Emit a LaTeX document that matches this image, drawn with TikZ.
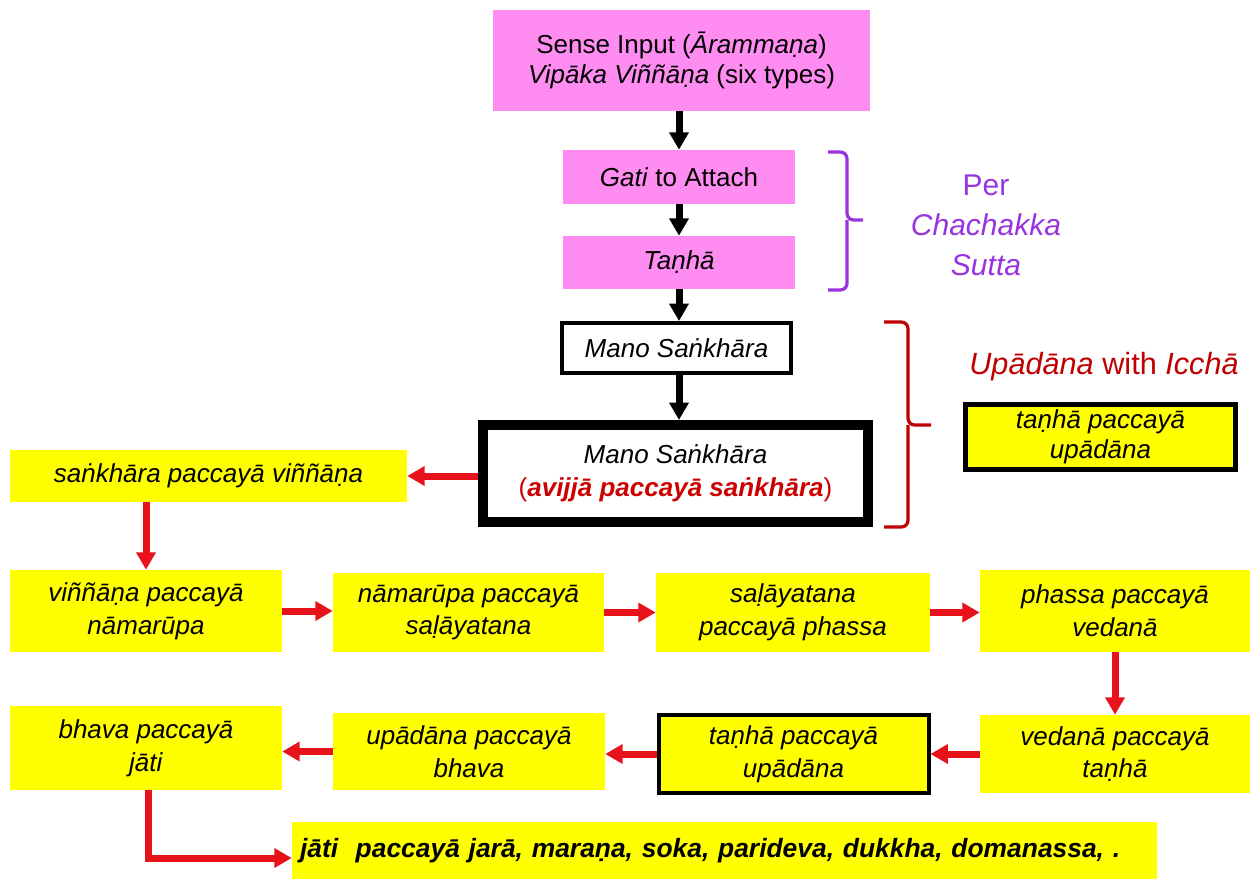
\documentclass[tikz,border=0pt]{standalone}
\usepackage{fontspec}
\setmainfont{Liberation Sans}
\usetikzlibrary{arrows.meta}
\definecolor{pinkbox}{HTML}{FF8CF0}
\definecolor{ylw}{HTML}{FFFF00}
\definecolor{redarr}{HTML}{E8121A}
\definecolor{darkred}{HTML}{C00000}
\definecolor{txtred}{HTML}{CC0000}
\definecolor{purp}{HTML}{9933E0}
\begin{document}
\begin{tikzpicture}[x=0.75pt,y=-0.75pt,
  font=\fontsize{19.5}{24.5}\selectfont,
  every node/.style={align=center, inner sep=0pt},
  pinkb/.style={fill=pinkbox},
  ylwb/.style={fill=ylw},
  wb/.style={fill=white, draw=black, line width=3pt},
  barrow/.style={draw=black, line width=5.25pt, -{Triangle[width=14pt,length=13pt]}},
  rarrow/.style={draw=redarr, line width=5.25pt, -{Triangle[width=14pt,length=13pt]}},
  brk/.style={line width=2.4pt, rounded corners=5pt}
]
\useasboundingbox[fill=white] (0,0) rectangle (1258,879);

% top pink boxes
\node[pinkb, minimum width=282.75pt, minimum height=75.75pt, font=\fontsize{19.5}{22.5}\selectfont] (top) at (681.5,60.5)
  {Sense Input (\textit{Ārammaṇa})\\\textit{Vipāka Viññāṇa} (six types)};
\node[pinkb, minimum width=174pt, minimum height=40.5pt] (gati) at (679,177)
  {\textit{Gati} to Attach};
\node[pinkb, minimum width=174pt, minimum height=39.75pt] (tanha) at (679,262.5)
  {\textit{Taṇhā}};

% mano sankhara boxes
\node[wb, minimum width=171.75pt, minimum height=37.5pt] (mano1) at (676.5,348)
  {\textit{Mano Saṅkhāra}};
\node[fill=white, draw=black, line width=7.5pt, minimum width=288.75pt, minimum height=72.75pt] (mano2) at (675.5,473.5)
  {\textit{Mano Saṅkhāra}\\{\color{txtred}(\textbf{\textit{avijjā paccayā saṅkhāra}})}};

% right side
\node[ylwb, draw=black, line width=3.75pt, minimum width=202.5pt, minimum height=48.75pt, font=\fontsize{19.5}{22.5}\selectfont] (upad) at (1100.5,437)
  {\textit{taṇhā paccayā}\\\textit{upādāna}};
\node[text=darkred, font=\fontsize{23}{26}\selectfont] (uptitle) at (1104,367) {\textit{Upādāna} with \textit{Icchā}};
\node[text=purp, font=\fontsize{22.5}{30}\selectfont] (per) at (986,225)
  {Per\\\textit{Chachakka}\\\textit{Sutta}};

% brackets
\coordinate (pb1) at (828,152);
\coordinate (pb2) at (828,290);
\coordinate (pbt) at (863,220);
\draw[purp, brk] (pb1) -- (847,152) -- (847,220) -- (pbt);
\draw[purp, brk] (pb2) -- (847,290) -- (847,220);
\coordinate (rb1) at (884,322);
\coordinate (rb2) at (884,527);
\coordinate (rbt) at (931,425);
\draw[darkred, brk] (rb1) -- (908,322) -- (908,425) -- (rbt);
\draw[darkred, brk] (rb2) -- (908,527) -- (908,425);

% yellow chain
\node[ylwb, minimum width=297.75pt, minimum height=39pt] (sv) at (208.5,476)
  {\textit{saṅkhāra paccayā viññāṇa}};
\node[ylwb, minimum width=204pt, minimum height=61.5pt] (r1a) at (146,611)
  {\textit{viññāṇa paccayā}\\\textit{nāmarūpa}};
\node[ylwb, minimum width=203.25pt, minimum height=59.25pt] (r1b) at (468.5,612.5)
  {\textit{nāmarūpa paccayā}\\\textit{saḷāyatana}};
\node[ylwb, minimum width=205.5pt, minimum height=59.25pt] (r1c) at (793,612.5)
  {\textit{saḷāyatana}\\\textit{paccayā phassa}};
\node[ylwb, minimum width=202.5pt, minimum height=61.5pt] (r1d) at (1115,611)
  {\textit{phassa paccayā}\\\textit{vedanā}};
\node[ylwb, minimum width=202.5pt, minimum height=58.5pt] (r2d) at (1115,754)
  {\textit{vedanā paccayā}\\\textit{taṇhā}};
\node[ylwb, draw=black, line width=3pt, minimum width=202.5pt, minimum height=58.5pt] (r2c) at (793.5,754)
  {\textit{taṇhā paccayā}\\\textit{upādāna}};
\node[ylwb, minimum width=204pt, minimum height=57.75pt] (r2b) at (469,751.5)
  {\textit{upādāna paccayā}\\\textit{bhava}};
\node[ylwb, minimum width=204pt, minimum height=63pt] (r2a) at (146,748)
  {\textit{bhava paccayā}\\\textit{jāti}};
\node[ylwb, minimum width=648.75pt, minimum height=42.75pt, text width=636.75pt, inner xsep=6pt, align=left, font=\fontsize{19.8}{24}\selectfont] (fin) at (724.5,850.5)
  {\bfseries\itshape jāti\ \ paccayā jarā, maraṇa, soka, parideva, dukkha, domanassa, .};

% black arrows
\draw[barrow] (top.south -| tanha.north) -- (gati.north);
\draw[barrow] (gati.south) -- (tanha.north);
\draw[barrow] (tanha.south) -- (tanha.south |- mano1.north);
\draw[barrow] (mano1.south -| tanha.south) -- (tanha.south |- mano2.north);

% red arrows
\draw[rarrow] (mano2.west |- sv.east) -- (sv.east);
\draw[rarrow] (sv.south -| r1a.north) -- (r1a.north);
\draw[rarrow] (r1a.east) -- (r1b.west |- r1a.east);
\draw[rarrow] (r1b.east) -- (r1c.west);
\draw[rarrow] (r1c.east) -- (r1d.west |- r1c.east);
\draw[rarrow] (r1d.south) -- (r2d.north);
\draw[rarrow] (r2d.west) -- (r2c.east);
\draw[rarrow] (r2c.west) -- (r2b.east |- r2c.west);
\draw[rarrow] (r2b.west) -- (r2a.east |- r2b.west);
\coordinate (elb) at (148,858);
\draw[rarrow] (r2a.south -| elb) -- (elb) -- (elb -| fin.west);
\end{tikzpicture}
\end{document}
